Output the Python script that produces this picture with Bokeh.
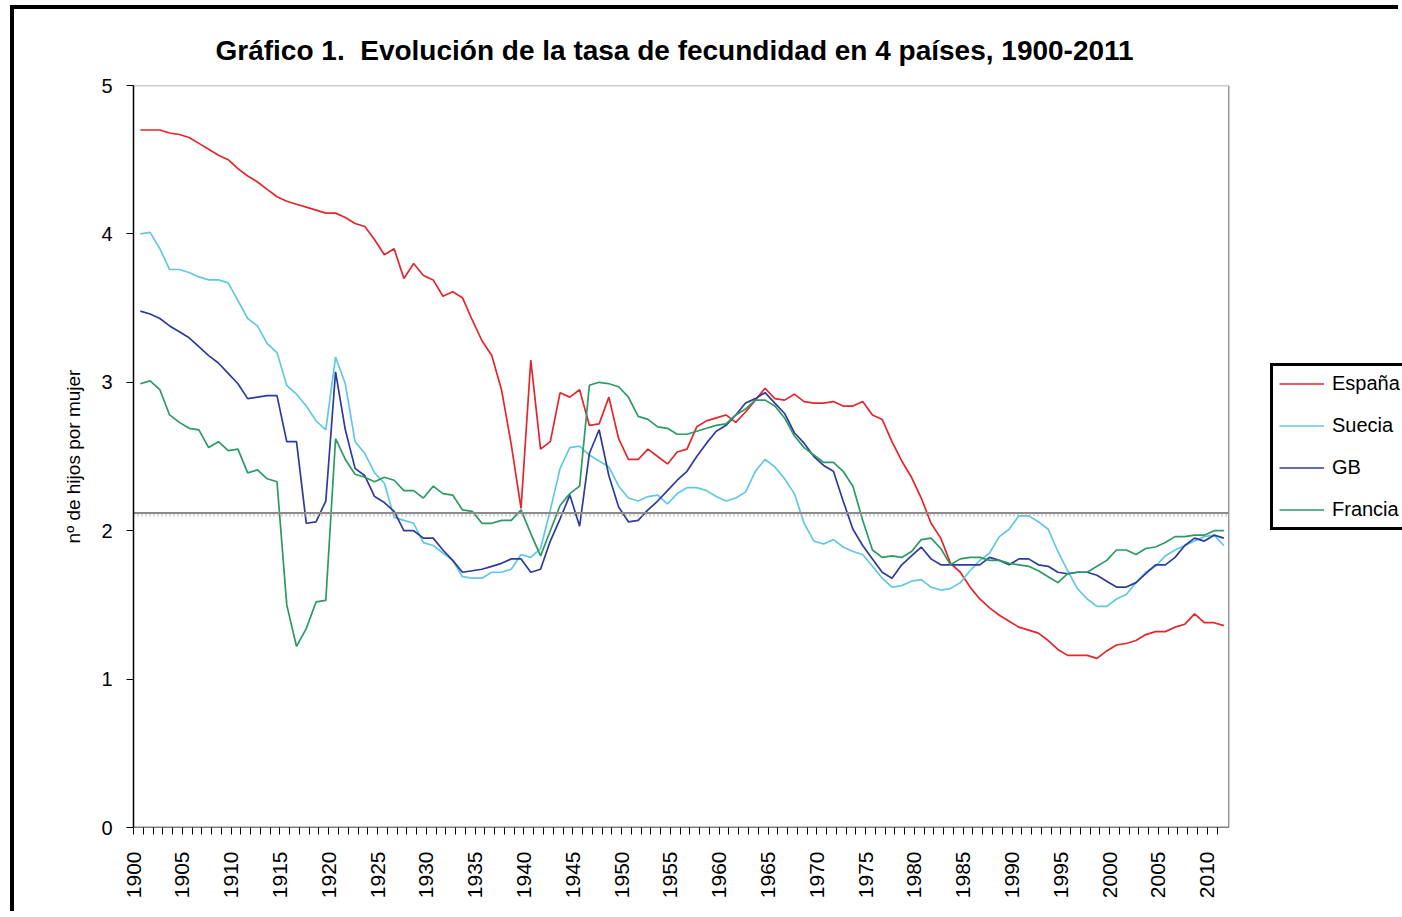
import math
from bokeh.plotting import figure
from bokeh.models import FixedTicker, Legend, LegendItem, CustomJSTickFormatter
from bokeh.embed import file_html
from bokeh.resources import INLINE

# ---------------- datos ----------------
anios = list(range(1900, 2012))

espana = [
    4.70, 4.70, 4.70, 4.68, 4.67, 4.65, 4.61, 4.57, 4.53, 4.50,
    4.44, 4.39, 4.35, 4.30, 4.25, 4.22, 4.20, 4.18, 4.16, 4.14,
    4.14, 4.11, 4.07, 4.05, 3.96, 3.86, 3.90, 3.70, 3.80, 3.72,
    3.69, 3.58, 3.61, 3.57, 3.42, 3.28, 3.18, 2.95, 2.58, 2.15,
    3.15, 2.55, 2.60, 2.93, 2.90, 2.95, 2.71, 2.72, 2.90, 2.62,
    2.48, 2.48, 2.55, 2.50, 2.45, 2.53, 2.55, 2.70, 2.74, 2.76,
    2.78, 2.73, 2.80, 2.88, 2.96, 2.89, 2.88, 2.92, 2.87, 2.86,
    2.86, 2.87, 2.84, 2.84, 2.87, 2.78, 2.75, 2.60, 2.47, 2.36,
    2.22, 2.05, 1.95, 1.78, 1.72, 1.62, 1.54, 1.48, 1.43, 1.39,
    1.35, 1.33, 1.31, 1.26, 1.20, 1.16, 1.16, 1.16, 1.14, 1.19,
    1.23, 1.24, 1.26, 1.30, 1.32, 1.32, 1.35, 1.37, 1.44, 1.38,
    1.38, 1.36,
]

suecia = [
    4.00, 4.01, 3.90, 3.76, 3.76, 3.74, 3.71, 3.69, 3.69, 3.67,
    3.55, 3.43, 3.38, 3.26, 3.20, 2.98, 2.92, 2.84, 2.74, 2.68,
    3.17, 2.99, 2.60, 2.52, 2.39, 2.32, 2.09, 2.07, 2.05, 1.92,
    1.90, 1.85, 1.80, 1.69, 1.68, 1.68, 1.72, 1.72, 1.74, 1.84,
    1.82, 1.88, 2.14, 2.42, 2.56, 2.57, 2.51, 2.47, 2.43, 2.30,
    2.22, 2.20, 2.23, 2.24, 2.18, 2.25, 2.29, 2.29, 2.27, 2.23,
    2.20, 2.22, 2.26, 2.40, 2.48, 2.43, 2.35, 2.25, 2.05, 1.93,
    1.91, 1.94, 1.89, 1.86, 1.84, 1.76, 1.68, 1.62, 1.63, 1.66,
    1.67, 1.62, 1.60, 1.61, 1.65, 1.73, 1.80, 1.85, 1.96, 2.01,
    2.10, 2.10, 2.06, 2.01, 1.86, 1.73, 1.61, 1.54, 1.49, 1.49,
    1.54, 1.57, 1.65, 1.72, 1.76, 1.83, 1.87, 1.90, 1.93, 1.96,
    1.97, 1.90,
]

gb = [
    3.48, 3.46, 3.43, 3.38, 3.34, 3.30, 3.24, 3.18, 3.13, 3.06,
    2.99, 2.89, 2.90, 2.91, 2.91, 2.60, 2.60, 2.05, 2.06, 2.20,
    3.07, 2.68, 2.42, 2.37, 2.23, 2.19, 2.13, 2.00, 2.00, 1.95,
    1.95, 1.87, 1.80, 1.72, 1.73, 1.74, 1.76, 1.78, 1.81, 1.81,
    1.72, 1.74, 1.93, 2.08, 2.24, 2.03, 2.52, 2.68, 2.37, 2.16,
    2.06, 2.07, 2.14, 2.20, 2.27, 2.34, 2.40, 2.50, 2.59, 2.67,
    2.71, 2.78, 2.86, 2.89, 2.93, 2.86, 2.79, 2.66, 2.59, 2.50,
    2.44, 2.40, 2.20, 2.01, 1.90, 1.81, 1.72, 1.68, 1.77, 1.83,
    1.89, 1.81, 1.77, 1.77, 1.77, 1.77, 1.77, 1.82, 1.80, 1.77,
    1.81, 1.81, 1.77, 1.76, 1.72, 1.71, 1.72, 1.72, 1.70, 1.66,
    1.62, 1.62, 1.65, 1.71, 1.77, 1.77, 1.82, 1.90, 1.95, 1.93,
    1.97, 1.95,
]

francia = [
    2.99, 3.01, 2.95, 2.78, 2.73, 2.69, 2.68, 2.56, 2.60, 2.54,
    2.55, 2.39, 2.41, 2.35, 2.33, 1.50, 1.22, 1.34, 1.52, 1.53,
    2.62, 2.48, 2.38, 2.36, 2.33, 2.36, 2.34, 2.27, 2.27, 2.22,
    2.30, 2.25, 2.24, 2.14, 2.13, 2.05, 2.05, 2.07, 2.07, 2.14,
    1.98, 1.83, 2.00, 2.17, 2.25, 2.30, 2.98, 3.00, 2.99, 2.97,
    2.90, 2.77, 2.75, 2.70, 2.69, 2.65, 2.65, 2.67, 2.69, 2.71,
    2.72, 2.78, 2.82, 2.88, 2.88, 2.84, 2.76, 2.64, 2.56, 2.51,
    2.46, 2.46, 2.40, 2.30, 2.07, 1.87, 1.82, 1.83, 1.82, 1.86,
    1.94, 1.95, 1.88, 1.77, 1.81, 1.82, 1.82, 1.80, 1.80, 1.78,
    1.77, 1.76, 1.73, 1.69, 1.65, 1.71, 1.72, 1.72, 1.76, 1.80,
    1.87, 1.87, 1.84, 1.88, 1.89, 1.92, 1.96, 1.96, 1.97, 1.97,
    2.00, 2.00,
]

paises = ["España", "Suecia", "GB", "Francia"]
colores = ["#E3262C", "#62C8E2", "#2D3C9B", "#2B9A63"]
reemplazo = 2.12            # nivel de reemplazo (línea gris)
ticks_y = [0, 1, 2, 3, 4, 5]
titulo = "Gráfico 1.\u00a0 Evolución de la tasa de fecundidad en 4 países, 1900-2011"
etiqueta_y = "nº de hijos por mujer"

FONT = "Liberation Sans"
desfase = 0.7          # marcas del eje en los límites de categoría
x_ini, x_fin = 1899.3, 2011.5   # área de trazado (categorías)
y_min, y_max = 0, 5

# ---------------- figura ----------------
# el marco se extiende a la derecha para alojar la leyenda
p = figure(width=1388, height=906, output_backend="svg", toolbar_location=None,
           x_range=(x_ini, 2029.3), y_range=(y_min, y_max),
           min_border_left=119, min_border_right=0,
           min_border_top=76, min_border_bottom=88)
p.styles = {"border-left": "4px solid black", "border-top": "4px solid black",
            "margin-left": "10px", "margin-top": "5px"}
p.background_fill_color = "white"
p.border_fill_color = "white"
p.outline_line_color = None
p.xgrid.visible = False
p.ygrid.visible = False

p.title.text = titulo
p.title.align = "left"
p.title.offset = 82
p.title.text_font = FONT
p.title.text_font_size = "28px"
p.title.text_font_style = "bold"
p.title.text_color = "black"
p.title.standoff = 39

# eje x
p.xaxis.ticker = FixedTicker(ticks=[a - desfase for a in anios])
p.xaxis.formatter = CustomJSTickFormatter(code="""
    const y = Math.round(tick + 0.7);
    return (y % 5 == 0) ? String(y) : "";
""")
p.xaxis.major_label_orientation = math.pi / 2
p.xaxis.major_tick_out = 7
p.xaxis.major_tick_in = 0
p.xaxis.minor_tick_out = 0
p.xaxis.minor_tick_in = 0
p.xaxis.major_label_standoff = 17
p.xaxis.major_label_text_font = FONT
p.xaxis.major_label_text_font_size = "21px"
p.xaxis.major_label_text_color = "black"
p.xaxis.axis_line_color = None
p.xaxis.major_tick_line_color = "black"

# eje y
p.yaxis.ticker = FixedTicker(ticks=ticks_y)
p.yaxis.major_tick_out = 7
p.yaxis.major_tick_in = 0
p.yaxis.minor_tick_out = 0
p.yaxis.minor_tick_in = 0
p.yaxis.major_label_standoff = 14
p.yaxis.major_label_text_font = FONT
p.yaxis.major_label_text_font_size = "20px"
p.yaxis.major_label_text_color = "black"
p.yaxis.axis_line_color = "black"
p.yaxis.axis_line_width = 1.5
p.yaxis.major_tick_line_color = "black"
p.yaxis.axis_label = etiqueta_y
p.yaxis.axis_label_text_font = FONT
p.yaxis.axis_label_text_font_size = "19px"
p.yaxis.axis_label_text_font_style = "normal"
p.yaxis.axis_label_text_color = "black"
p.yaxis.axis_label_standoff = 14

# borde del área de trazado: arriba y derecha gris, abajo negro (eje)
p.segment(x0=[x_ini, x_fin], y0=[y_max, y_min], x1=[x_fin, x_fin], y1=[y_max, y_max],
          line_color="#9a9a9a", line_width=1.5)

# series
series = [espana, suecia, gb, francia]
renders = []
for nombre, vals, col in zip(paises, series, colores):
    r = p.line(anios, vals, line_color=col, line_width=1.7)
    renders.append(r)

# línea de reemplazo
p.segment(x0=[x_ini], y0=[reemplazo], x1=[x_fin], y1=[reemplazo],
          line_color="#8a8a8a", line_width=2)
p.segment(x0=[x_ini], y0=[reemplazo - 0.014], x1=[x_fin], y1=[reemplazo - 0.014],
          line_color="#b0b0b0", line_width=3, line_dash="1 3")

# eje x (línea) sólo bajo las categorías
p.segment(x0=[x_ini], y0=[y_min], x1=[x_fin], y1=[y_min],
          line_color="black", line_width=1.5)

legend = Legend(items=[LegendItem(label=n, renderers=[r]) for n, r in zip(paises, renders)],
                location=(1137, 297))
legend.border_line_color = "black"
legend.border_line_alpha = 1.0
legend.border_line_width = 3
legend.background_fill_color = "white"
legend.background_fill_alpha = 1
legend.label_text_font = FONT
legend.label_text_font_size = "20px"
legend.label_text_color = "black"
legend.glyph_width = 45
legend.glyph_height = 21
legend.label_height = 21
legend.spacing = 19
legend.padding = 6
legend.margin = 0
legend.label_standoff = 8
p.add_layout(legend, "center")

open("out.html", "w").write(file_html(p, INLINE))
